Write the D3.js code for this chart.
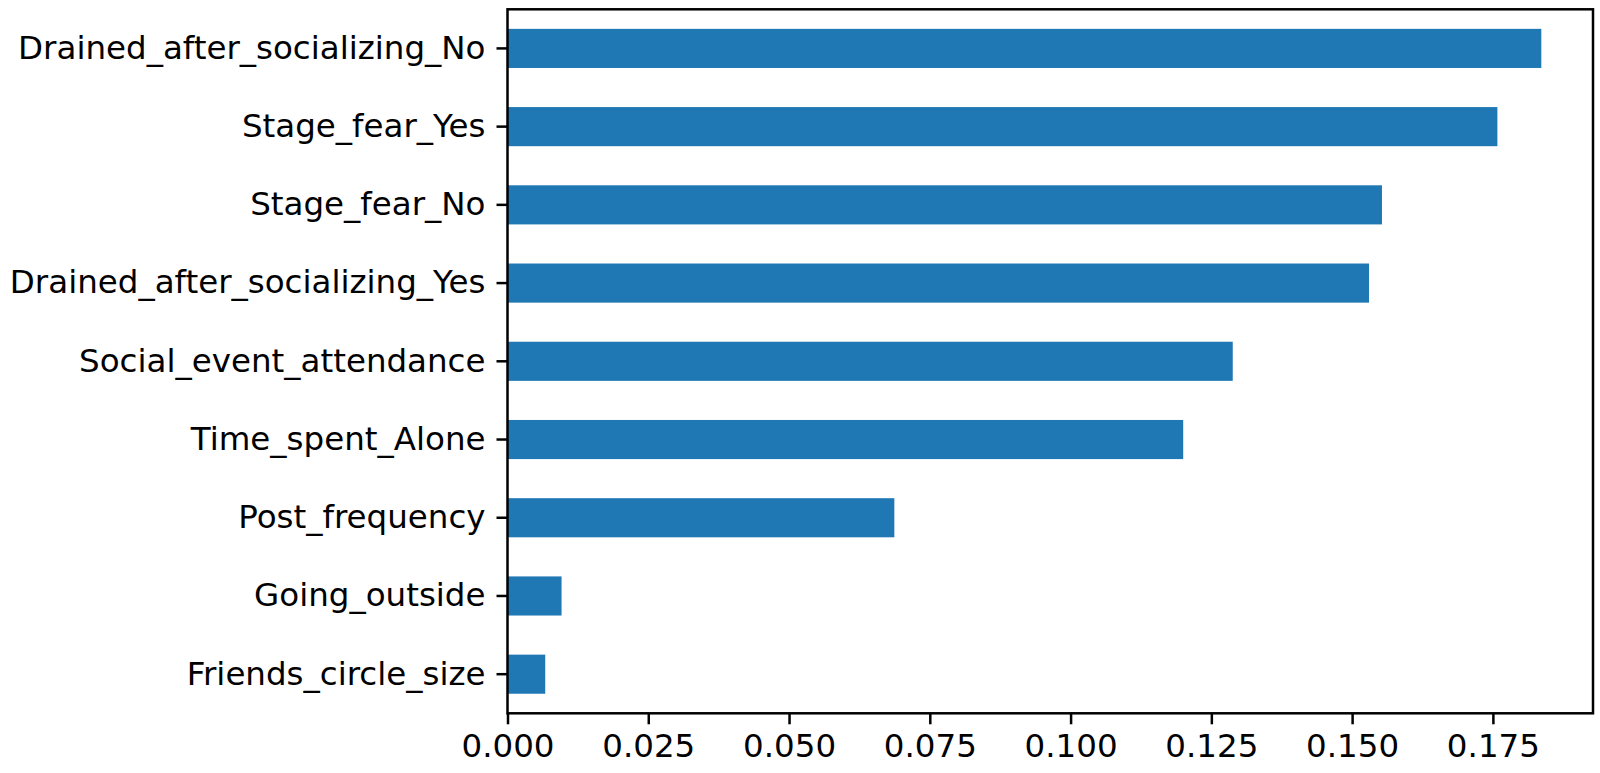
<!DOCTYPE html>
<html>
<head>
<meta charset="utf-8">
<script src="https://cdn.jsdelivr.net/npm/d3@7"></script>
<style>
  body { margin: 0; background: #fff; }
  .tick text { font-family: "DejaVu Sans", sans-serif; font-size: 32.5px; fill: #000; }
</style>
</head>
<body>
<div id="vis"></div>
<script>
// feature names, top to bottom
const FEATURES = ["Drained_after_socializing_No", "Stage_fear_Yes", "Stage_fear_No",
                  "Drained_after_socializing_Yes", "Social_event_attendance", "Time_spent_Alone",
                  "Post_frequency", "Going_outside", "Friends_circle_size"];
const IMPORTANCE = [0.1836, 0.1758, 0.1553, 0.1530, 0.1288, 0.1200, 0.0687, 0.0096, 0.0067];
const X_TICKS = [0, 0.025, 0.05, 0.075, 0.1, 0.125, 0.15, 0.175];

const FRAME_WIDTH = 1600;
const FRAME_HEIGHT = 773;
const MARGINS = {left: 507.5, right: 7, top: 9.3, bottom: 59.7};
const VIS_WIDTH = FRAME_WIDTH - MARGINS.left - MARGINS.right;
const VIS_HEIGHT = FRAME_HEIGHT - MARGINS.top - MARGINS.bottom;

const FRAME = d3.select("#vis")
  .append("svg")
    .attr("width", FRAME_WIDTH)
    .attr("height", FRAME_HEIGHT);

const data = FEATURES.map((f, i) => ({feature: f, value: IMPORTANCE[i]}));

// matplotlib style: 5% margin past the longest bar
const X_SCALE = d3.scaleLinear()
  .domain([0, d3.max(IMPORTANCE) * 1.05])
  .range([0, VIS_WIDTH]);

const Y_SCALE = d3.scaleBand()
  .domain(FEATURES)
  .range([0, VIS_HEIGHT])
  .paddingInner(0.5)
  .paddingOuter(0.25);

const G = FRAME.append("g")
  .attr("transform", "translate(" + MARGINS.left + "," + MARGINS.top + ")");

G.selectAll(".bar")
  .data(data)
  .enter()
  .append("rect")
    .attr("class", "bar")
    .attr("x", X_SCALE(0))
    .attr("y", (d) => Y_SCALE(d.feature))
    .attr("width", (d) => X_SCALE(d.value) - X_SCALE(0))
    .attr("height", Y_SCALE.bandwidth())
    .attr("fill", "#1f77b4");

// x axis
const xAxis = G.append("g")
  .attr("transform", "translate(0," + VIS_HEIGHT + ")")
  .call(d3.axisBottom(X_SCALE)
    .tickValues(X_TICKS)
    .tickFormat(d3.format(".3f"))
    .tickSize(11)
    .tickPadding(10)
    .tickSizeOuter(0));
xAxis.select(".domain").remove();
xAxis.selectAll(".tick line").attr("stroke", "#000").attr("stroke-width", 2.5);
xAxis.selectAll(".tick text").attr("dy", "0.71em");

// y axis
const yAxis = G.append("g")
  .call(d3.axisLeft(Y_SCALE)
    .tickSize(11)
    .tickPadding(11)
    .tickSizeOuter(0));
yAxis.select(".domain").remove();
yAxis.selectAll(".tick line").attr("stroke", "#000").attr("stroke-width", 2.5);

// frame around the plot
G.append("rect")
  .attr("x", 0)
  .attr("y", 0)
  .attr("width", VIS_WIDTH)
  .attr("height", VIS_HEIGHT)
  .attr("fill", "none")
  .attr("stroke", "#000")
  .attr("stroke-width", 2.5);
</script>
</body>
</html>
